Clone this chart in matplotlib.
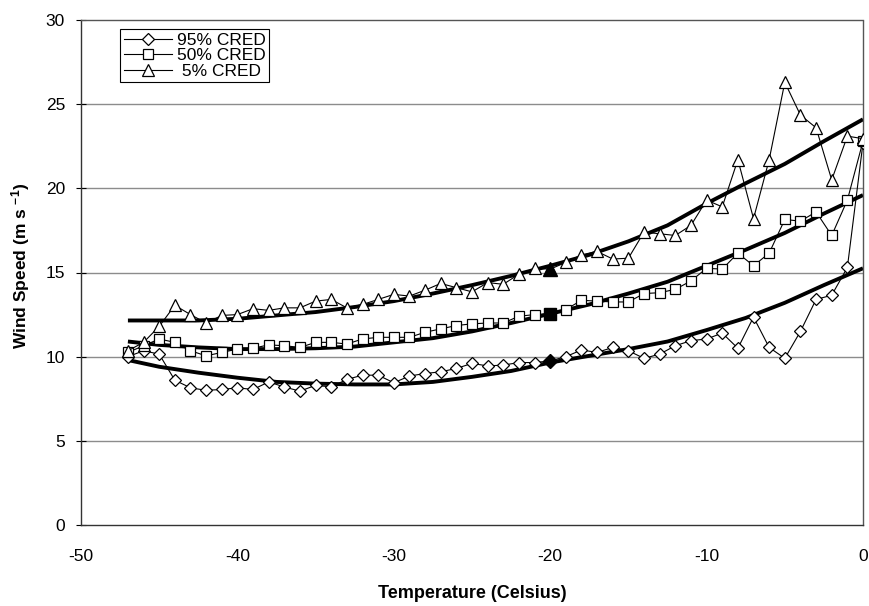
import matplotlib
matplotlib.use("Agg")
import matplotlib.pyplot as plt
import numpy as np

plt.rcParams['font.family'] = ['Liberation Sans', 'DejaVu Sans']
plt.rcParams['mathtext.default'] = 'regular'

# Observed temperatures (Celsius)
temps = list(range(-47, 1))

cred95 = [10.0, 10.35, 10.15, 8.6, 8.15, 8.0, 8.05, 8.15, 8.05, 8.5,
          8.2, 7.95, 8.3, 8.2, 8.65, 8.9, 8.9, 8.45, 8.85, 9.0,
          9.1, 9.3, 9.6, 9.45, 9.5, 9.65, 9.65, 9.75, 10.0, 10.4,
          10.25, 10.55, 10.35, 9.9, 10.15, 10.65, 10.95, 11.05, 11.4, 10.5,
          12.35, 10.55, 9.9, 11.5, 13.4, 13.65, 15.3, 22.7]

cred50 = [10.25, 10.65, 11.05, 10.85, 10.35, 10.05, 10.25, 10.45, 10.5, 10.7,
          10.65, 10.55, 10.85, 10.85, 10.75, 11.05, 11.15, 11.15, 11.15, 11.45,
          11.65, 11.85, 11.95, 12.0, 12.0, 12.4, 12.5, 12.55, 12.8, 13.35,
          13.3, 13.25, 13.25, 13.75, 13.8, 14.0, 14.5, 15.25, 15.2, 16.15,
          15.4, 16.15, 18.15, 18.05, 18.6, 17.2, 19.3, 22.8]

cred5 = [10.35, 10.85, 11.8, 13.05, 12.5, 12.0, 12.45, 12.5, 12.85, 12.75,
         12.9, 12.9, 13.3, 13.4, 12.9, 13.1, 13.4, 13.7, 13.6, 13.95,
         14.35, 14.1, 13.85, 14.4, 14.3, 14.9, 15.25, 15.2, 15.6, 16.05,
         16.25, 15.8, 15.85, 17.4, 17.3, 17.2, 17.8, 19.3, 18.9, 21.7,
         18.2, 21.7, 26.3, 24.35, 23.6, 20.5, 23.1, 22.95]

# Fitted (smooth) curves
fit_temps = [-47, -45, -42.5, -40, -37.5, -35, -32.5, -30, -27.5, -25,
             -22.5, -20, -17.5, -15, -12.5, -10, -7.5, -5, -2.5, 0]
fit5 = [12.15, 12.15, 12.15, 12.25, 12.45, 12.65, 12.95, 13.3, 13.75, 14.25,
        14.8, 15.4, 16.05, 16.85, 17.8, 19.1, 20.3, 21.45, 22.8, 24.1]
fit50 = [10.9, 10.7, 10.55, 10.45, 10.45, 10.5, 10.6, 10.85, 11.1, 11.5,
         12.0, 12.55, 13.1, 13.75, 14.45, 15.4, 16.35, 17.35, 18.5, 19.6]
fit95 = [9.8, 9.4, 9.05, 8.75, 8.5, 8.4, 8.35, 8.35, 8.5, 8.8,
         9.15, 9.65, 10.05, 10.45, 10.9, 11.58, 12.3, 13.2, 14.25, 15.25]

highlight_temp = -20

xticks = [-50, -40, -30, -20, -10, 0]
yticks = [0, 5, 10, 15, 20, 25, 30]

fig = plt.figure(figsize=(8.7, 6.06), dpi=100)
ax = fig.add_axes([81/870, 1-525/606, 782/870, 505/606])

for yv in yticks[1:-1]:
    ax.axhline(yv, color='#8c8c8c', lw=1.0, zorder=1)

# fitted curves
for f in (fit95, fit50, fit5):
    ax.plot(fit_temps, f, color='black', lw=2.8, zorder=2, solid_capstyle='butt')

common = dict(color='black', lw=0.8, mfc='white', mec='black', mew=0.9, zorder=3)
ax.plot(temps, cred95, marker='D', ms=6.6, label='95% CRED', **common)
ax.plot(temps, cred50, marker='s', ms=7.4, label='50% CRED', **common)
ax.plot(temps, cred5, marker='^', ms=9.0, label=' 5% CRED', **common)

i = temps.index(highlight_temp)
ax.plot([highlight_temp], [cred95[i]], marker='D', ms=7.0, color='black', ls='none', zorder=4)
ax.plot([highlight_temp], [cred50[i]], marker='s', ms=8.0, color='black', ls='none', zorder=4)
ax.plot([highlight_temp], [cred5[i]], marker='^', ms=9.5, color='black', ls='none', zorder=4)

ax.set_xlim(-50, 0)
ax.set_ylim(0, 30)
ax.set_xticks(xticks)
ax.set_yticks(yticks)
ax.set_xticklabels([str(t) for t in xticks])
ax.set_yticklabels([str(t) for t in yticks])
ax.tick_params(axis='y', direction='inout', length=7, width=0.8, pad=8, labelsize=12.5, colors='black')
ax.tick_params(axis='x', direction='inout', length=0, width=0.8, pad=17, labelsize=12.5, colors='black')

for s in ('left', 'bottom'):
    ax.spines[s].set_color('#333333')
    ax.spines[s].set_linewidth(1.0)
for s in ('top', 'right'):
    ax.spines[s].set_color('#555555')
    ax.spines[s].set_linewidth(1.0)
    ax.spines[s].set_linestyle((0, (1, 1)))

ax.set_xlabel('Temperature (Celsius)', fontsize=13, fontweight='bold')
ax.set_ylabel(r'Wind Speed (m s $^{-1}$)', fontsize=12.5, fontweight='bold')
ax.xaxis.set_label_coords(0.5, -0.118)
ax.xaxis.label.set_va('top')
ax.yaxis.set_label_coords(-0.063, 0.513)

leg = ax.legend(loc='upper left', bbox_to_anchor=(0.05, 0.982), fontsize=12.5,
                frameon=True, fancybox=False, edgecolor='black', framealpha=1,
                handlelength=2.8, handletextpad=0.25, labelspacing=0.02,
                borderpad=0.2, borderaxespad=0)
leg.get_frame().set_linewidth(0.8)

fig.savefig('out.png', dpi=100)
